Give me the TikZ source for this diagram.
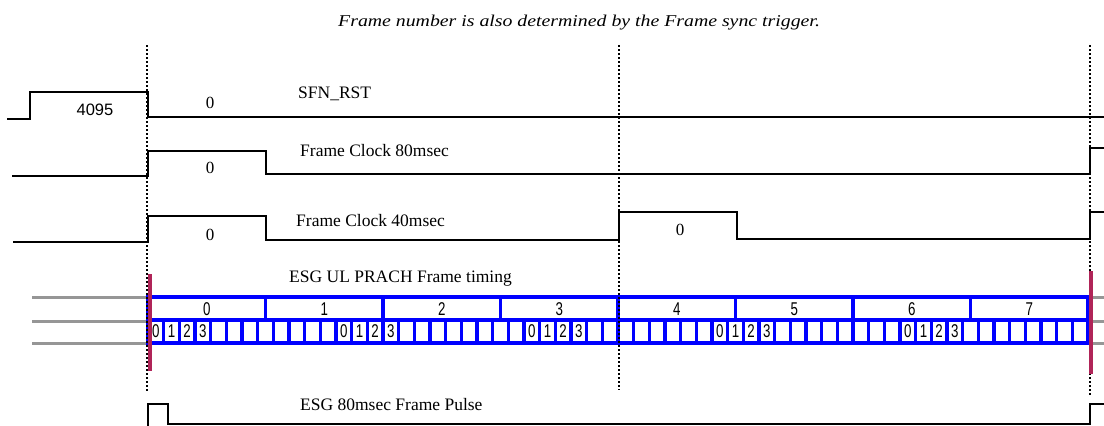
\documentclass[tikz,border=0pt]{standalone}
\usepackage{fontspec}
\setmainfont{Liberation Serif}
\newfontfamily\notefont{Liberation Serif}[FakeStretch=1.2]
\newfontfamily\cellfont{Liberation Sans}[FakeStretch=0.72]
\newfontfamily\countfont{Liberation Sans}
\definecolor{prachblue}{RGB}{0,0,255}
\definecolor{syncred}{RGB}{176,36,88}
\definecolor{trackgray}{RGB}{150,150,150}

\begin{document}
\begin{tikzpicture}[x=1pt, y=-1pt,
  wave/.style={line width=2pt, black},
  syncline/.style={line width=2pt, dash pattern=on 2pt off 2pt},
  prachgrid/.style={line width=3.5pt, prachblue},
  trackline/.style={line width=3pt, trackgray},
  syncmark/.style={line width=4pt, syncred},
  siglabel/.style={inner sep=0pt, anchor=base west, font=\fontsize{17.5}{20}\selectfont},
  wavevalue/.style={inner sep=0pt, font=\fontsize{17}{19}\selectfont},
  cellnum/.style={inner sep=0pt, font=\cellfont\fontsize{18.5}{20}\selectfont}]
\useasboundingbox (0,0) rectangle (1104,426);

% note on top
\node[siglabel, font=\notefont\itshape\fontsize{16.5}{19}\selectfont] (note) at (338,26)
  {Frame number is also determined by the Frame sync trigger.};

% gray tracks behind the PRACH grid
\foreach \y in {297,321,343} {
  \draw[trackline] (32,\y) -- (148,\y);
  \draw[trackline] (1090,\y) -- (1104,\y);
}

% PRACH frames and sub frames
\draw[prachgrid] (148,297) rectangle (1088,343);
\draw[prachgrid] (148,320) -- (1088,320);
\foreach \k in {1,...,7}
  \draw[prachgrid] ({148+117.5*\k},297) -- ++(0,23);
\foreach \i in {1,...,59}
  \draw[prachgrid] ({148+940/60*\i},320) -- ++(0,23);
\foreach \k in {0,...,7}
  \node[cellnum] (frame\k) at ({148+117.5*(\k+0.5)},309) {\k};
\foreach \g in {0,12,24,36,48}
  \foreach \d in {0,...,3}
    \node[cellnum] (sub\g-\d) at ({148+940/60*(\g+\d+0.5)},331.5) {\d};

% sync lines
\foreach \x/\e in {147/392, 619/390, 1090/395}
  \draw[syncline] (\x,45) -- (\x,\e);
\draw[syncmark] (149.5,274) -- (149.5,371);
\draw[syncmark] (1090.5,271) -- (1090.5,374);

% SFN_RST
\draw[wave] (7,119) -- (30,119) -- (30,92) -- (148,92) -- (148,116.5) -- (1104,116.5);
\node[wavevalue, font=\countfont\fontsize{16.5}{19}\selectfont] (sfnold) at (95,109.5) {4095};
\node[wavevalue] (sfnnew) at (210,103) {0};
\node[siglabel] (sfn) at (298,98) {SFN\_RST};

% Frame Clock 80msec
\draw[wave] (12,176) -- (148,176) -- (148,151) -- (266,151) -- (266,174) -- (1090,174) -- (1090,148) -- (1104,148);
\node[wavevalue] (fc80val) at (210,168) {0};
\node[siglabel] (fc80) at (300,156) {Frame Clock 80msec};

% Frame Clock 40msec
\draw[wave] (13,242) -- (148,242) -- (148,216) -- (266,216) -- (266,240) -- (619,240) -- (619,212) -- (737,212) -- (737,239) -- (1090,239) -- (1090,212) -- (1104,212);
\node[wavevalue] (fc40val) at (210,235) {0};
\node[wavevalue] (fc40next) at (680,229.5) {0};
\node[siglabel] (fc40) at (296,226) {Frame Clock 40msec};

% PRACH title
\node[siglabel] (prach) at (289,282) {ESG UL PRACH Frame timing};

% 80msec pulse
\draw[wave] (148,427) -- (148,404) -- (168,404) -- (168,424) -- (1090,424) -- (1090,404) -- (1104,404);
\node[siglabel] (pulse) at (300,410) {ESG 80msec Frame Pulse};
\end{tikzpicture}
\end{document}
